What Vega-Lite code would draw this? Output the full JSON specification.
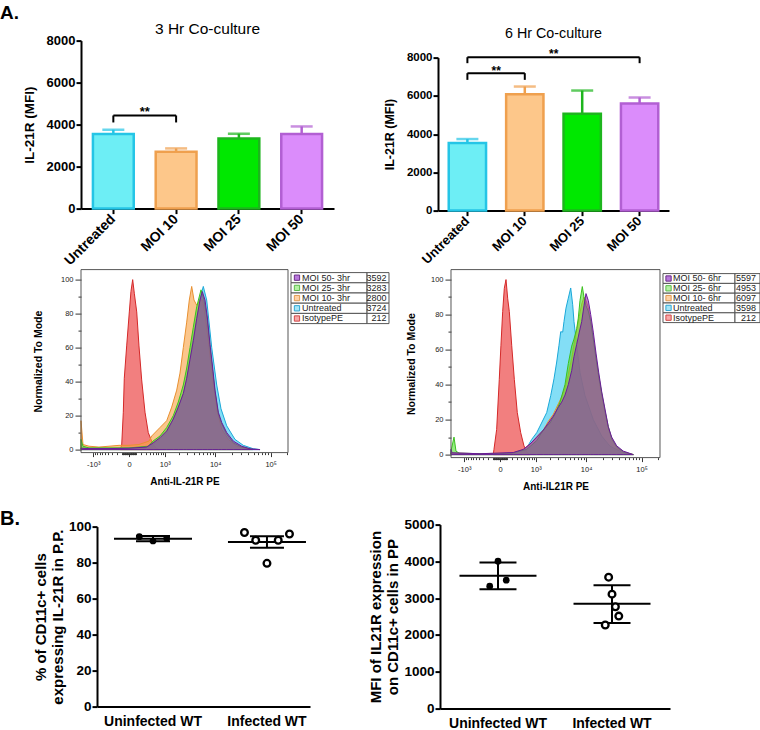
{
"$schema": "https://vega.github.io/schema/vega-lite/v6.json",
"padding": {"left": 0, "top": 3.6, "right": 0, "bottom": 0},
"background": "white",
"config": {
 "font": "Liberation Sans",
 "view": {"stroke": null},
 "axis": {"grid": false, "domainColor": "black", "domainWidth": 2, "tickColor": "black", "tickWidth": 2, "tickSize": 5, "labelColor": "black", "labelFontWeight": "bold", "titleColor": "black", "titleFontWeight": "bold", "labelFont": "Liberation Sans", "titleFont": "Liberation Sans", "labelOverlap": false},
 "title": {"color": "black", "font": "Liberation Sans"},
 "text": {"font": "Liberation Sans"}
},
"datasets": {
 "bar3": [{"group":"Untreated","mfi":3550,"hi":3755},{"group":"MOI 10","mfi":2710,"hi":2866},{"group":"MOI 25","mfi":3342,"hi":3565},{"group":"MOI 50","mfi":3550,"hi":3912}],
 "bar6": [{"group":"Untreated","mfi":3533,"hi":3741},{"group":"MOI 10","mfi":6090,"hi":6487},{"group":"MOI 25","mfi":5062,"hi":6278},{"group":"MOI 50","mfi":5600,"hi":5913}],
 "br3": [{"k":"a","from":"Untreated","to":"MOI 10","top":4435,"bottom":4102,"stars":"**"}],
 "br6": [{"k":"a","from":"Untreated","to":"MOI 10","top":7186,"bottom":6836,"stars":"**"},{"k":"b","from":"Untreated","to":"MOI 50","top":8021,"bottom":7708,"stars":"**"}],
 "leg3": [{"label":"MOI 50- 3hr","sample":"MOI 50","mfi":3592},{"label":"MOI 25- 3hr","sample":"MOI 25","mfi":3283},{"label":"MOI 10- 3hr","sample":"MOI 10","mfi":2800},{"label":"Untreated","sample":"Untreated","mfi":3724},{"label":"IsotypePE","sample":"IsotypePE","mfi":212}],
 "leg6": [{"label":"MOI 50- 6hr","sample":"MOI 50","mfi":5597},{"label":"MOI 25- 6hr","sample":"MOI 25","mfi":4953},{"label":"MOI 10- 6hr","sample":"MOI 10","mfi":6097},{"label":"Untreated","sample":"Untreated","mfi":3598},{"label":"IsotypePE","sample":"IsotypePE","mfi":212}],
 "d1": [{"group":"Uninfected WT","id":"U1","v":94.4},{"group":"Uninfected WT","id":"U2","v":92.0},{"group":"Uninfected WT","id":"U3","v":93.5},{"group":"Infected WT","id":"I1","v":96.7},{"group":"Infected WT","id":"I2","v":92.4},{"group":"Infected WT","id":"I5","v":79.6},{"group":"Infected WT","id":"I3","v":92.4},{"group":"Infected WT","id":"I4","v":95.9}],
 "s1": [{"group":"Uninfected WT","mean":93.3,"lo":91.9,"hi":94.8},{"group":"Infected WT","mean":91.5,"lo":88.3,"hi":94.7}],
 "d2": [{"group":"Uninfected WT","id":"U1","v":3327},{"group":"Uninfected WT","id":"U2","v":4006},{"group":"Uninfected WT","id":"U3","v":3490},{"group":"Infected WT","id":"I1","v":2270},{"group":"Infected WT","id":"I2","v":3571},{"group":"Infected WT","id":"I3","v":3110},{"group":"Infected WT","id":"I4","v":2767},{"group":"Infected WT","id":"I5","v":2514}],
 "s2": [{"group":"Uninfected WT","mean":3608,"lo":3246,"hi":3969},{"group":"Infected WT","mean":2846,"lo":2324,"hi":3354}],
 "h3": [
{"sample":"IsotypePE","fl":-134,"pct":0},{"sample":"IsotypePE","fl":-105,"pct":2.5},{"sample":"IsotypePE","fl":-79,"pct":22},{"sample":"IsotypePE","fl":-64,"pct":42},{"sample":"IsotypePE","fl":-30,"pct":61},{"sample":"IsotypePE","fl":4,"pct":81},{"sample":"IsotypePE","fl":25,"pct":93},{"sample":"IsotypePE","fl":49,"pct":100},{"sample":"IsotypePE","fl":73,"pct":92},{"sample":"IsotypePE","fl":112,"pct":81},{"sample":"IsotypePE","fl":152,"pct":61},{"sample":"IsotypePE","fl":205,"pct":41},{"sample":"IsotypePE","fl":279,"pct":22},{"sample":"IsotypePE","fl":362,"pct":10},{"sample":"IsotypePE","fl":503,"pct":3},{"sample":"IsotypePE","fl":647,"pct":0.5},{"sample":"IsotypePE","fl":771,"pct":0},
{"sample":"Untreated","fl":-1851,"pct":1},{"sample":"Untreated","fl":-1250,"pct":0.8},{"sample":"Untreated","fl":-382,"pct":0.8},{"sample":"Untreated","fl":0,"pct":1},{"sample":"Untreated","fl":279,"pct":1.2},{"sample":"Untreated","fl":503,"pct":3},{"sample":"Untreated","fl":771,"pct":6},{"sample":"Untreated","fl":1110,"pct":10},{"sample":"Untreated","fl":1432,"pct":16},{"sample":"Untreated","fl":1826,"pct":23},{"sample":"Untreated","fl":2487,"pct":33},{"sample":"Untreated","fl":2905,"pct":42},{"sample":"Untreated","fl":3267,"pct":52},{"sample":"Untreated","fl":3850,"pct":65},{"sample":"Untreated","fl":4530,"pct":78},{"sample":"Untreated","fl":5233,"pct":89},{"sample":"Untreated","fl":6036,"pct":96},{"sample":"Untreated","fl":6980,"pct":88},{"sample":"Untreated","fl":8650,"pct":60},{"sample":"Untreated","fl":10690,"pct":38},{"sample":"Untreated","fl":12800,"pct":24},{"sample":"Untreated","fl":16260,"pct":14},{"sample":"Untreated","fl":22980,"pct":6},{"sample":"Untreated","fl":32430,"pct":2.5},{"sample":"Untreated","fl":49050,"pct":0.5},{"sample":"Untreated","fl":64670,"pct":0},
{"sample":"MOI 10","fl":-1851,"pct":17},{"sample":"MOI 10","fl":-1682,"pct":3},{"sample":"MOI 10","fl":-1250,"pct":2},{"sample":"MOI 10","fl":-728,"pct":1.5},{"sample":"MOI 10","fl":-382,"pct":2},{"sample":"MOI 10","fl":-152,"pct":2.5},{"sample":"MOI 10","fl":0,"pct":2.5},{"sample":"MOI 10","fl":152,"pct":3},{"sample":"MOI 10","fl":382,"pct":5},{"sample":"MOI 10","fl":462,"pct":8},{"sample":"MOI 10","fl":771,"pct":13},{"sample":"MOI 10","fl":1110,"pct":17},{"sample":"MOI 10","fl":1432,"pct":25},{"sample":"MOI 10","fl":1826,"pct":35},{"sample":"MOI 10","fl":2134,"pct":45},{"sample":"MOI 10","fl":2487,"pct":60},{"sample":"MOI 10","fl":2905,"pct":75},{"sample":"MOI 10","fl":3267,"pct":88},{"sample":"MOI 10","fl":3634,"pct":96},{"sample":"MOI 10","fl":4024,"pct":88},{"sample":"MOI 10","fl":4530,"pct":85},{"sample":"MOI 10","fl":5233,"pct":88},{"sample":"MOI 10","fl":5883,"pct":88},{"sample":"MOI 10","fl":6777,"pct":75},{"sample":"MOI 10","fl":8040,"pct":55},{"sample":"MOI 10","fl":9252,"pct":38},{"sample":"MOI 10","fl":10958,"pct":22},{"sample":"MOI 10","fl":13182,"pct":12},{"sample":"MOI 10","fl":17381,"pct":6},{"sample":"MOI 10","fl":24657,"pct":2},{"sample":"MOI 10","fl":42790,"pct":0},
{"sample":"MOI 25","fl":-1851,"pct":6},{"sample":"MOI 25","fl":-1682,"pct":2},{"sample":"MOI 25","fl":-1250,"pct":1},{"sample":"MOI 25","fl":0,"pct":1},{"sample":"MOI 25","fl":362,"pct":2},{"sample":"MOI 25","fl":503,"pct":5},{"sample":"MOI 25","fl":771,"pct":8},{"sample":"MOI 25","fl":1110,"pct":13},{"sample":"MOI 25","fl":1549,"pct":20},{"sample":"MOI 25","fl":1970,"pct":28},{"sample":"MOI 25","fl":2487,"pct":38},{"sample":"MOI 25","fl":2905,"pct":48},{"sample":"MOI 25","fl":3370,"pct":60},{"sample":"MOI 25","fl":3903,"pct":72},{"sample":"MOI 25","fl":4530,"pct":84},{"sample":"MOI 25","fl":5466,"pct":94},{"sample":"MOI 25","fl":6220,"pct":88},{"sample":"MOI 25","fl":7165,"pct":76},{"sample":"MOI 25","fl":8040,"pct":60},{"sample":"MOI 25","fl":9018,"pct":46},{"sample":"MOI 25","fl":9940,"pct":34},{"sample":"MOI 25","fl":11430,"pct":21},{"sample":"MOI 25","fl":13182,"pct":15},{"sample":"MOI 25","fl":16260,"pct":9},{"sample":"MOI 25","fl":21410,"pct":4},{"sample":"MOI 25","fl":30340,"pct":1.5},{"sample":"MOI 25","fl":48420,"pct":0},
{"sample":"MOI 50","fl":-1851,"pct":0.8},{"sample":"MOI 50","fl":-1250,"pct":0.6},{"sample":"MOI 50","fl":-382,"pct":0.6},{"sample":"MOI 50","fl":0,"pct":0.8},{"sample":"MOI 50","fl":320,"pct":1.5},{"sample":"MOI 50","fl":510,"pct":4},{"sample":"MOI 50","fl":771,"pct":7},{"sample":"MOI 50","fl":1110,"pct":11},{"sample":"MOI 50","fl":1549,"pct":18},{"sample":"MOI 50","fl":1970,"pct":25},{"sample":"MOI 50","fl":2487,"pct":33},{"sample":"MOI 50","fl":2905,"pct":42},{"sample":"MOI 50","fl":3370,"pct":53},{"sample":"MOI 50","fl":3903,"pct":64},{"sample":"MOI 50","fl":4530,"pct":77},{"sample":"MOI 50","fl":5233,"pct":88},{"sample":"MOI 50","fl":5780,"pct":93},{"sample":"MOI 50","fl":6492,"pct":88},{"sample":"MOI 50","fl":7165,"pct":78},{"sample":"MOI 50","fl":8040,"pct":62},{"sample":"MOI 50","fl":9018,"pct":48},{"sample":"MOI 50","fl":9940,"pct":35},{"sample":"MOI 50","fl":11430,"pct":22},{"sample":"MOI 50","fl":13182,"pct":16},{"sample":"MOI 50","fl":16260,"pct":10},{"sample":"MOI 50","fl":21410,"pct":5},{"sample":"MOI 50","fl":30340,"pct":2},{"sample":"MOI 50","fl":42790,"pct":0.5},{"sample":"MOI 50","fl":64670,"pct":0}
 ],
 "h6": [
{"sample":"IsotypePE","fl":-95,"pct":0},{"sample":"IsotypePE","fl":-84,"pct":3},{"sample":"IsotypePE","fl":-44,"pct":14.4},{"sample":"IsotypePE","fl":-9,"pct":43},{"sample":"IsotypePE","fl":12,"pct":62.5},{"sample":"IsotypePE","fl":35,"pct":81.7},{"sample":"IsotypePE","fl":58,"pct":95},{"sample":"IsotypePE","fl":84,"pct":100},{"sample":"IsotypePE","fl":112,"pct":89},{"sample":"IsotypePE","fl":140,"pct":81.7},{"sample":"IsotypePE","fl":185,"pct":62.5},{"sample":"IsotypePE","fl":240,"pct":43},{"sample":"IsotypePE","fl":310,"pct":24},{"sample":"IsotypePE","fl":402,"pct":12.5},{"sample":"IsotypePE","fl":503,"pct":5},{"sample":"IsotypePE","fl":620,"pct":1},{"sample":"IsotypePE","fl":728,"pct":0},
{"sample":"Untreated","fl":-1942,"pct":1},{"sample":"Untreated","fl":-382,"pct":0.5},{"sample":"Untreated","fl":150,"pct":0.5},{"sample":"Untreated","fl":382,"pct":1},{"sample":"Untreated","fl":598,"pct":3.8},{"sample":"Untreated","fl":802,"pct":8.7},{"sample":"Untreated","fl":1053,"pct":12.5},{"sample":"Untreated","fl":1250,"pct":16.3},{"sample":"Untreated","fl":1741,"pct":24},{"sample":"Untreated","fl":2105,"pct":33.7},{"sample":"Untreated","fl":2453,"pct":43.3},{"sample":"Untreated","fl":2776,"pct":52.9},{"sample":"Untreated","fl":3080,"pct":62.5},{"sample":"Untreated","fl":3325,"pct":70.2},{"sample":"Untreated","fl":3634,"pct":70},{"sample":"Untreated","fl":3850,"pct":76},{"sample":"Untreated","fl":4206,"pct":83.7},{"sample":"Untreated","fl":4653,"pct":89.4},{"sample":"Untreated","fl":5166,"pct":95.2},{"sample":"Untreated","fl":5632,"pct":85.6},{"sample":"Untreated","fl":5958,"pct":76},{"sample":"Untreated","fl":6691,"pct":62.5},{"sample":"Untreated","fl":7704,"pct":47},{"sample":"Untreated","fl":9527,"pct":33.7},{"sample":"Untreated","fl":13518,"pct":20},{"sample":"Untreated","fl":19209,"pct":10.6},{"sample":"Untreated","fl":27130,"pct":4.8},{"sample":"Untreated","fl":47060,"pct":1},{"sample":"Untreated","fl":71080,"pct":0},
{"sample":"MOI 10","fl":-1942,"pct":1},{"sample":"MOI 10","fl":-382,"pct":0.5},{"sample":"MOI 10","fl":218,"pct":1},{"sample":"MOI 10","fl":481,"pct":3},{"sample":"MOI 10","fl":728,"pct":6},{"sample":"MOI 10","fl":1053,"pct":10},{"sample":"MOI 10","fl":1475,"pct":14},{"sample":"MOI 10","fl":1879,"pct":19},{"sample":"MOI 10","fl":2375,"pct":23},{"sample":"MOI 10","fl":2985,"pct":29},{"sample":"MOI 10","fl":3477,"pct":33},{"sample":"MOI 10","fl":4024,"pct":38},{"sample":"MOI 10","fl":4653,"pct":46},{"sample":"MOI 10","fl":5393,"pct":55},{"sample":"MOI 10","fl":5958,"pct":63},{"sample":"MOI 10","fl":6691,"pct":71},{"sample":"MOI 10","fl":7479,"pct":79},{"sample":"MOI 10","fl":8283,"pct":86},{"sample":"MOI 10","fl":9133,"pct":90},{"sample":"MOI 10","fl":9940,"pct":88},{"sample":"MOI 10","fl":10958,"pct":84},{"sample":"MOI 10","fl":12118,"pct":76},{"sample":"MOI 10","fl":13518,"pct":66},{"sample":"MOI 10","fl":15141,"pct":55},{"sample":"MOI 10","fl":16950,"pct":44},{"sample":"MOI 10","fl":19209,"pct":34},{"sample":"MOI 10","fl":22036,"pct":24},{"sample":"MOI 10","fl":25275,"pct":15},{"sample":"MOI 10","fl":29110,"pct":9},{"sample":"MOI 10","fl":35820,"pct":4},{"sample":"MOI 10","fl":47060,"pct":1.5},{"sample":"MOI 10","fl":71080,"pct":0},
{"sample":"MOI 25","fl":-1942,"pct":2},{"sample":"MOI 25","fl":-1682,"pct":10},{"sample":"MOI 25","fl":-1526,"pct":2},{"sample":"MOI 25","fl":-1250,"pct":0.5},{"sample":"MOI 25","fl":0,"pct":0.5},{"sample":"MOI 25","fl":218,"pct":1},{"sample":"MOI 25","fl":598,"pct":3},{"sample":"MOI 25","fl":1053,"pct":8},{"sample":"MOI 25","fl":1475,"pct":14},{"sample":"MOI 25","fl":2036,"pct":18},{"sample":"MOI 25","fl":2568,"pct":23},{"sample":"MOI 25","fl":3223,"pct":30},{"sample":"MOI 25","fl":4024,"pct":40},{"sample":"MOI 25","fl":4653,"pct":52},{"sample":"MOI 25","fl":5393,"pct":62},{"sample":"MOI 25","fl":5958,"pct":66},{"sample":"MOI 25","fl":6691,"pct":72},{"sample":"MOI 25","fl":7165,"pct":78},{"sample":"MOI 25","fl":7704,"pct":88},{"sample":"MOI 25","fl":8499,"pct":96},{"sample":"MOI 25","fl":9133,"pct":90},{"sample":"MOI 25","fl":9940,"pct":85},{"sample":"MOI 25","fl":10958,"pct":82},{"sample":"MOI 25","fl":12118,"pct":76},{"sample":"MOI 25","fl":13518,"pct":66},{"sample":"MOI 25","fl":15141,"pct":55},{"sample":"MOI 25","fl":16950,"pct":45},{"sample":"MOI 25","fl":19209,"pct":35},{"sample":"MOI 25","fl":22036,"pct":25},{"sample":"MOI 25","fl":25275,"pct":16},{"sample":"MOI 25","fl":29110,"pct":9},{"sample":"MOI 25","fl":35820,"pct":4.5},{"sample":"MOI 25","fl":47060,"pct":1.5},{"sample":"MOI 25","fl":71080,"pct":0},
{"sample":"MOI 50","fl":-1942,"pct":3},{"sample":"MOI 50","fl":-1850,"pct":1},{"sample":"MOI 50","fl":-382,"pct":0.5},{"sample":"MOI 50","fl":218,"pct":1.2},{"sample":"MOI 50","fl":481,"pct":3},{"sample":"MOI 50","fl":728,"pct":6},{"sample":"MOI 50","fl":1053,"pct":10},{"sample":"MOI 50","fl":1475,"pct":14},{"sample":"MOI 50","fl":1879,"pct":18},{"sample":"MOI 50","fl":2375,"pct":22},{"sample":"MOI 50","fl":2985,"pct":27},{"sample":"MOI 50","fl":3477,"pct":30},{"sample":"MOI 50","fl":4024,"pct":34},{"sample":"MOI 50","fl":4653,"pct":40},{"sample":"MOI 50","fl":5393,"pct":48},{"sample":"MOI 50","fl":5958,"pct":56},{"sample":"MOI 50","fl":6691,"pct":63},{"sample":"MOI 50","fl":7479,"pct":70},{"sample":"MOI 50","fl":8283,"pct":76},{"sample":"MOI 50","fl":9133,"pct":85},{"sample":"MOI 50","fl":9940,"pct":92},{"sample":"MOI 50","fl":10958,"pct":88},{"sample":"MOI 50","fl":12118,"pct":80},{"sample":"MOI 50","fl":13518,"pct":70},{"sample":"MOI 50","fl":15141,"pct":58},{"sample":"MOI 50","fl":16950,"pct":47},{"sample":"MOI 50","fl":19209,"pct":36},{"sample":"MOI 50","fl":22036,"pct":26},{"sample":"MOI 50","fl":25275,"pct":16},{"sample":"MOI 50","fl":29110,"pct":10},{"sample":"MOI 50","fl":35820,"pct":5},{"sample":"MOI 50","fl":47060,"pct":2},{"sample":"MOI 50","fl":71080,"pct":0}
 ]
},
"columns": 4,
"spacing": {"row": 59, "column": 0},
"bounds": "flush",
"align": "each",
"resolve": {"scale": {"fill": "independent", "stroke": "independent", "color": "independent"}},
"concat": [
 {"width": 81, "height": 1, "data": {"values": []}, "mark": "point",
  "title": {"text": "A.", "anchor": "start", "frame": "group", "fontSize": 19, "fontWeight": "bold", "offset": 18}},
 {"width": 253, "height": 168,
  "title": {"text": "3 Hr Co-culture", "fontSize": 15.5, "fontWeight": "normal", "frame": "group", "anchor": "middle", "offset": -3},
  "layer": [
   {"data": {"name": "bar3"}, "mark": {"type": "bar", "strokeWidth": 2.5},
    "encoding": {
     "x": {"field": "group", "type": "nominal", "sort": null, "scale": {"domain": ["Untreated","MOI 10","MOI 25","MOI 50"], "paddingInner": 0.35, "paddingOuter": 0.19},
           "axis": {"title": null, "labelAngle": -45, "labelAlign": "right", "labelBaseline": "middle", "labelFontSize": 14, "labelPadding": 3, "labelOverlap": false}},
     "y": {"field": "mfi", "type": "quantitative", "scale": {"domain": [0, 8000], "nice": false},
           "axis": {"title": "IL-21R (MFI)", "values": [0,2000,4000,6000,8000], "tickCount": 100, "format": "d", "labelOverlap": false, "labelFontSize": 13, "labelPadding": 1, "titleFontSize": 13.5, "titlePadding": 10}},
     "fill": {"field": "group", "type": "nominal", "scale": {"domain": ["Untreated","MOI 10","MOI 25","MOI 50"], "range": ["#6DEEF5","#FDC78A","#00E800","#DB8CFB"]}, "legend": null},
     "stroke": {"field": "group", "type": "nominal", "scale": {"domain": ["Untreated","MOI 10","MOI 25","MOI 50"], "range": ["#25C5E6","#EFA04E","#1DB51D","#B25FD3"]}, "legend": null}
    }},
   {"data": {"name": "bar3"}, "mark": {"type": "rule", "strokeWidth": 2.5},
    "encoding": {"x": {"field": "group", "type": "nominal"}, "y": {"field": "mfi", "type": "quantitative"}, "y2": {"field": "hi"}, "stroke": {"field": "group", "type": "nominal"}}},
   {"data": {"name": "bar3"}, "mark": {"type": "tick", "thickness": 2.5, "size": 22},
    "encoding": {"x": {"field": "group", "type": "nominal"}, "y": {"field": "hi", "type": "quantitative"}, "color": {"field": "group", "type": "nominal", "scale": {"domain": ["Untreated","MOI 10","MOI 25","MOI 50"], "range": ["#25C5E6","#EFA04E","#1DB51D","#B25FD3"]}, "legend": null}}},
   {"data": {"name": "br3"}, "mark": {"type": "rule", "strokeWidth": 2, "color": "black"},
    "encoding": {"x": {"field": "from", "type": "nominal"}, "x2": {"field": "to"}, "y": {"field": "top", "type": "quantitative"}}},
   {"data": {"name": "br3"}, "mark": {"type": "rule", "strokeWidth": 2, "color": "black"},
    "encoding": {"x": {"field": "from", "type": "nominal"}, "y": {"field": "top", "type": "quantitative"}, "y2": {"field": "bottom"}}},
   {"data": {"name": "br3"}, "mark": {"type": "rule", "strokeWidth": 2, "color": "black"},
    "encoding": {"x": {"field": "to", "type": "nominal"}, "y": {"field": "top", "type": "quantitative"}, "y2": {"field": "bottom"}}},
   {"data": {"name": "br3"}, "mark": {"type": "text", "fontSize": 13, "fontWeight": "bold", "color": "black", "dx": 31.5, "dy": 1, "baseline": "alphabetic"},
    "encoding": {"x": {"field": "from", "type": "nominal"}, "y": {"field": "top", "type": "quantitative"}, "text": {"field": "stars"}}}
  ]},
 {"width": 104, "height": 1, "data": {"values": []}, "mark": "point"},
 {"width": 231, "height": 170,
  "title": {"text": "6 Hr Co-culture", "fontSize": 14.3, "fontWeight": "normal", "frame": "group", "anchor": "middle", "offset": -1},
  "layer": [
   {"data": {"name": "bar6"}, "mark": {"type": "bar", "strokeWidth": 2.5},
    "encoding": {
     "x": {"field": "group", "type": "nominal", "sort": null, "scale": {"domain": ["Untreated","MOI 10","MOI 25","MOI 50"], "paddingInner": 0.35, "paddingOuter": 0.187},
           "axis": {"title": null, "labelAngle": -45, "labelAlign": "right", "labelBaseline": "middle", "labelFontSize": 13, "labelPadding": 3, "labelOverlap": false}},
     "y": {"field": "mfi", "type": "quantitative", "scale": {"domain": [0, 8000], "nice": false, "range": [170, 17]},
           "axis": {"title": "IL-21R (MFI)", "values": [0,2000,4000,6000,8000], "tickCount": 100, "format": "d", "labelOverlap": false, "labelFontSize": 11.5, "labelPadding": 1, "titleFontSize": 12.5, "titlePadding": 10}},
     "fill": {"field": "group", "type": "nominal", "scale": {"domain": ["Untreated","MOI 10","MOI 25","MOI 50"], "range": ["#6DEEF5","#FDC78A","#00E800","#DB8CFB"]}, "legend": null},
     "stroke": {"field": "group", "type": "nominal", "scale": {"domain": ["Untreated","MOI 10","MOI 25","MOI 50"], "range": ["#25C5E6","#EFA04E","#1DB51D","#B25FD3"]}, "legend": null}
    }},
   {"data": {"name": "bar6"}, "mark": {"type": "rule", "strokeWidth": 2.5},
    "encoding": {"x": {"field": "group", "type": "nominal"}, "y": {"field": "mfi", "type": "quantitative"}, "y2": {"field": "hi"}, "stroke": {"field": "group", "type": "nominal"}}},
   {"data": {"name": "bar6"}, "mark": {"type": "tick", "thickness": 2.5, "size": 22},
    "encoding": {"x": {"field": "group", "type": "nominal"}, "y": {"field": "hi", "type": "quantitative"}, "color": {"field": "group", "type": "nominal", "scale": {"domain": ["Untreated","MOI 10","MOI 25","MOI 50"], "range": ["#25C5E6","#EFA04E","#1DB51D","#B25FD3"]}, "legend": null}}},
   {"data": {"name": "br6"}, "mark": {"type": "rule", "strokeWidth": 2, "color": "black"},
    "encoding": {"x": {"field": "from", "type": "nominal"}, "x2": {"field": "to"}, "y": {"field": "top", "type": "quantitative"}}},
   {"data": {"name": "br6"}, "mark": {"type": "rule", "strokeWidth": 2, "color": "black"},
    "encoding": {"x": {"field": "from", "type": "nominal"}, "y": {"field": "top", "type": "quantitative"}, "y2": {"field": "bottom"}}},
   {"data": {"name": "br6"}, "mark": {"type": "rule", "strokeWidth": 2, "color": "black"},
    "encoding": {"x": {"field": "to", "type": "nominal"}, "y": {"field": "top", "type": "quantitative"}, "y2": {"field": "bottom"}}},
   {"data": {"name": "br6"}, "transform": [{"filter": "datum.k === 'a'"}], "mark": {"type": "text", "fontSize": 12, "fontWeight": "bold", "color": "black", "dx": 28.75, "dy": 1.7, "baseline": "alphabetic"},
    "encoding": {"x": {"field": "from", "type": "nominal"}, "y": {"field": "top", "type": "quantitative"}, "text": {"field": "stars"}}},
   {"data": {"name": "br6"}, "transform": [{"filter": "datum.k === 'b'"}], "mark": {"type": "text", "fontSize": 12, "fontWeight": "bold", "color": "black", "dx": 86.25, "dy": 1.2, "baseline": "alphabetic"},
    "encoding": {"x": {"field": "from", "type": "nominal"}, "y": {"field": "top", "type": "quantitative"}, "text": {"field": "stars"}}}
  ]},

 {"width": 81, "height": 196, "data": {"values": []}, "mark": "point"},
 {"width": 207, "height": 183,
  "layer": [
   {"layer": [
     {"data": {"name": "h3"},
      "mark": {"type": "area", "fillOpacity": 0.6, "strokeWidth": 1},
      "encoding": {
       "x": {"field": "fl", "type": "quantitative", "scale": {"type": "symlog", "constant": 300, "domain": [-1851, 204600], "nice": false, "zero": false},
             "axis": {"title": "Anti-IL-21R PE", "values": [-1000,-900,-800,-700,-600,-500,-400,-300,-200,-100,-90,-80,-70,-60,-50,-40,-30,-20,-10,0,10,20,30,40,50,60,70,80,90,100,200,300,400,500,600,700,800,900,1000,2000,3000,4000,5000,6000,7000,8000,9000,10000,20000,30000,40000,50000,60000,70000,80000,90000,100000,200000],
                      "tickCount": 1000,
                      "labelExpr": "datum.value == -1000 ? '-10³' : datum.value == 0 ? '0' : datum.value == 1000 ? '10³' : datum.value == 10000 ? '10⁴' : datum.value == 100000 ? '10⁵' : ''",
                      "labelOverlap": false, "domain": false, "tickColor": "#333", "tickWidth": 1, "tickSize": {"condition": {"test": "indexof([-1000,0,1000,10000,100000], datum.value) >= 0", "value": 4}, "value": 2},
                      "labelFontSize": 7.5, "labelFontWeight": "normal", "labelColor": "#222", "labelPadding": 4, "labelFlush": false, "titleFontSize": 10, "titlePadding": 8}},
       "y": {"field": "pct", "type": "quantitative", "stack": null, "scale": {"domain": [-1.76, 105.9], "nice": false, "zero": false},
             "axis": {"title": "Normalized To Mode", "values": [0,10,20,30,40,50,60,70,80,90,100], "tickCount": 1000, "format": "d", "labelExpr": "datum.value % 20 === 0 ? datum.label : ''",
                      "labelOverlap": false, "domain": false, "tickColor": "#333", "tickWidth": 1, "tickSize": {"condition": {"test": "datum.value % 20 === 0", "value": 6}, "value": 3},
                      "labelFontSize": 7.5, "labelFontWeight": "normal", "labelColor": "#222", "labelPadding": 2, "titleFontSize": 10.5, "titlePadding": 17}},
       "fill": {"field": "sample", "type": "nominal", "scale": {"domain": ["IsotypePE","Untreated","MOI 10","MOI 25","MOI 50"], "range": ["#EA2A2A","#30C8F0","#F8A040","#50E030","#912DB6"]}, "legend": null},
       "stroke": {"field": "sample", "type": "nominal", "scale": {"domain": ["IsotypePE","Untreated","MOI 10","MOI 25","MOI 50"], "range": ["#D42828","#1AA8D8","#E89030","#3CC020","#6A1B9A"]}, "legend": null}
      }},
     {"data": {"values": [{}]}, "mark": {"type": "rect", "fill": "transparent", "stroke": "#555", "strokeWidth": 1},
      "encoding": {"x": {"datum": -1851, "type": "quantitative"}, "x2": {"datum": 204600}, "y": {"datum": -1.76, "type": "quantitative"}, "y2": {"datum": 105.9}}}
   ]},
   {"data": {"name": "leg3"},
    "encoding": {"y": {"field": "label", "type": "nominal", "sort": null, "scale": {"range": [3, 54], "paddingInner": 0, "paddingOuter": 0}, "axis": null}},
    "layer": [
     {"mark": {"type": "rect", "fill": "white", "stroke": "#555", "strokeWidth": 1},
      "encoding": {"x": {"datum": 0, "type": "quantitative", "scale": {"domain": [0, 1], "range": [210, 308], "nice": false, "zero": false}, "axis": null}, "x2": {"datum": 0.776}}},
     {"mark": {"type": "rect", "fill": "white", "stroke": "#555", "strokeWidth": 1},
      "encoding": {"x": {"datum": 0.776, "type": "quantitative"}, "x2": {"datum": 1}}},
     {"mark": {"type": "point", "shape": "square", "filled": true, "size": 28, "strokeWidth": 1, "opacity": 1},
      "encoding": {"x": {"datum": 0.061, "type": "quantitative"},
       "fill": {"field": "sample", "type": "nominal", "scale": {"domain": ["IsotypePE","Untreated","MOI 10","MOI 25","MOI 50"], "range": ["#F8A8A8","#A6E6F8","#FFD2A6","#B4F2A4","#B878DC"]}, "legend": null},
       "stroke": {"field": "sample", "type": "nominal", "scale": {"domain": ["IsotypePE","Untreated","MOI 10","MOI 25","MOI 50"], "range": ["#D04848","#2EA6D2","#E09A50","#5AB84A","#6A2A8A"]}, "legend": null}}},
     {"mark": {"type": "text", "align": "left", "baseline": "middle", "fontSize": 9, "color": "#222"},
      "encoding": {"x": {"datum": 0.112, "type": "quantitative"}, "text": {"field": "label"}}},
     {"mark": {"type": "text", "align": "right", "baseline": "middle", "fontSize": 9, "color": "#222"},
      "encoding": {"x": {"datum": 0.975, "type": "quantitative"}, "text": {"field": "mfi", "type": "quantitative", "format": "d"}}}
    ]}
  ],
  "resolve": {"scale": {"x": "independent", "y": "independent", "fill": "independent", "stroke": "independent"}}},
 {"width": 104, "height": 1, "data": {"values": []}, "mark": "point"},
 {"width": 222, "height": 188,
  "layer": [
   {"layer": [
     {"data": {"name": "h6"},
      "mark": {"type": "area", "fillOpacity": 0.6, "strokeWidth": 1},
      "encoding": {
       "x": {"field": "fl", "type": "quantitative", "scale": {"type": "symlog", "constant": 300, "domain": [-1942, 213300], "range": [13, 222], "nice": false, "zero": false},
             "axis": {"title": "Anti-IL21R PE", "values": [-1000,-900,-800,-700,-600,-500,-400,-300,-200,-100,-90,-80,-70,-60,-50,-40,-30,-20,-10,0,10,20,30,40,50,60,70,80,90,100,200,300,400,500,600,700,800,900,1000,2000,3000,4000,5000,6000,7000,8000,9000,10000,20000,30000,40000,50000,60000,70000,80000,90000,100000,200000],
                      "tickCount": 1000,
                      "labelExpr": "datum.value == -1000 ? '-10³' : datum.value == 0 ? '0' : datum.value == 1000 ? '10³' : datum.value == 10000 ? '10⁴' : datum.value == 100000 ? '10⁵' : ''",
                      "labelOverlap": false, "domain": false, "tickColor": "#333", "tickWidth": 1, "tickSize": {"condition": {"test": "indexof([-1000,0,1000,10000,100000], datum.value) >= 0", "value": 4}, "value": 2},
                      "labelFontSize": 7.5, "labelFontWeight": "normal", "labelColor": "#222", "labelPadding": 4, "labelFlush": false, "titleFontSize": 10, "titlePadding": 8}},
       "y": {"field": "pct", "type": "quantitative", "stack": null, "scale": {"domain": [-1.71, 105.7], "nice": false, "zero": false},
             "axis": {"title": "Normalized To Mode", "offset": -13, "values": [0,10,20,30,40,50,60,70,80,90,100], "tickCount": 1000, "format": "d", "labelExpr": "datum.value % 20 === 0 ? datum.label : ''",
                      "labelOverlap": false, "domain": false, "tickColor": "#333", "tickWidth": 1, "tickSize": {"condition": {"test": "datum.value % 20 === 0", "value": 6}, "value": 3},
                      "labelFontSize": 7.5, "labelFontWeight": "normal", "labelColor": "#222", "labelPadding": 2, "titleFontSize": 10.5, "titlePadding": 14}},
       "fill": {"field": "sample", "type": "nominal", "scale": {"domain": ["IsotypePE","Untreated","MOI 10","MOI 25","MOI 50"], "range": ["#EA2A2A","#30C8F0","#F8A040","#50E030","#912DB6"]}, "legend": null},
       "stroke": {"field": "sample", "type": "nominal", "scale": {"domain": ["IsotypePE","Untreated","MOI 10","MOI 25","MOI 50"], "range": ["#D42828","#1AA8D8","#E89030","#3CC020","#6A1B9A"]}, "legend": null}
      }},
     {"data": {"values": [{}]}, "mark": {"type": "rect", "fill": "transparent", "stroke": "#555", "strokeWidth": 1},
      "encoding": {"x": {"datum": -1942, "type": "quantitative"}, "x2": {"datum": 213300}, "y": {"datum": -1.71, "type": "quantitative"}, "y2": {"datum": 105.7}}}
   ]},
   {"data": {"name": "leg6"},
    "encoding": {"y": {"field": "label", "type": "nominal", "sort": null, "scale": {"range": [4, 53], "paddingInner": 0, "paddingOuter": 0}, "axis": null}},
    "layer": [
     {"mark": {"type": "rect", "fill": "white", "stroke": "#555", "strokeWidth": 1},
      "encoding": {"x": {"datum": 0, "type": "quantitative", "scale": {"domain": [0, 1], "range": [225, 322], "nice": false, "zero": false}, "axis": null}, "x2": {"datum": 0.742}}},
     {"mark": {"type": "rect", "fill": "white", "stroke": "#555", "strokeWidth": 1},
      "encoding": {"x": {"datum": 0.742, "type": "quantitative"}, "x2": {"datum": 1}}},
     {"mark": {"type": "point", "shape": "square", "filled": true, "size": 28, "strokeWidth": 1, "opacity": 1},
      "encoding": {"x": {"datum": 0.057, "type": "quantitative"},
       "fill": {"field": "sample", "type": "nominal", "scale": {"domain": ["IsotypePE","Untreated","MOI 10","MOI 25","MOI 50"], "range": ["#F8A8A8","#A6E6F8","#FFD2A6","#B4F2A4","#B878DC"]}, "legend": null},
       "stroke": {"field": "sample", "type": "nominal", "scale": {"domain": ["IsotypePE","Untreated","MOI 10","MOI 25","MOI 50"], "range": ["#D04848","#2EA6D2","#E09A50","#5AB84A","#6A2A8A"]}, "legend": null}}},
     {"mark": {"type": "text", "align": "left", "baseline": "middle", "fontSize": 9, "color": "#222"},
      "encoding": {"x": {"datum": 0.103, "type": "quantitative"}, "text": {"field": "label"}}},
     {"mark": {"type": "text", "align": "right", "baseline": "middle", "fontSize": 9, "color": "#222"},
      "encoding": {"x": {"datum": 0.96, "type": "quantitative"}, "text": {"field": "mfi", "type": "quantitative", "format": "d"}}}
    ]}
  ],
  "resolve": {"scale": {"x": "independent", "y": "independent", "fill": "independent", "stroke": "independent"}}},

 {"width": 81, "height": 1, "data": {"values": []}, "mark": "point",
  "title": {"text": "B.", "anchor": "start", "frame": "group", "fontSize": 20, "fontWeight": "bold", "offset": -4}},
 {"width": 229, "height": 182,
  "layer": [
   {"data": {"name": "s1"}, "mark": {"type": "rule", "color": "black", "strokeWidth": 2},
    "encoding": {
     "x": {"field": "group", "type": "nominal", "scale": {"domain": ["Uninfected WT","Infected WT"], "range": [16, 229], "paddingInner": 0.605, "paddingOuter": 0.237, "align": 0.62},
           "axis": {"title": null, "labelAngle": 0, "ticks": false, "labelOverlap": false, "labelFontSize": 14, "labelPadding": 8}},
     "y": {"field": "lo", "type": "quantitative", "scale": {"domain": [0, 100], "range": [182, 2], "nice": false},
           "axis": {"title": ["% of CD11c+ cells", "expressing IL-21R in P.P."], "offset": -16, "values": [0,20,40,60,80,100], "tickCount": 100, "format": "d", "labelOverlap": false, "labelFontSize": 13.5, "labelPadding": 1, "titleFontSize": 15, "titleLineHeight": 17, "titlePadding": 3}},
     "y2": {"field": "hi"}}},
   {"data": {"name": "s1"}, "mark": {"type": "tick", "color": "black", "thickness": 2, "size": 34, "opacity": 1},
    "encoding": {"x": {"field": "group", "type": "nominal"}, "y": {"field": "lo", "type": "quantitative"}}},
   {"data": {"name": "s1"}, "mark": {"type": "tick", "color": "black", "thickness": 2, "size": 34, "opacity": 1},
    "encoding": {"x": {"field": "group", "type": "nominal"}, "y": {"field": "hi", "type": "quantitative"}}},
   {"data": {"name": "s1"}, "mark": {"type": "tick", "color": "black", "thickness": 2, "size": 78, "opacity": 1},
    "encoding": {"x": {"field": "group", "type": "nominal"}, "y": {"field": "mean", "type": "quantitative"}}},
   {"data": {"name": "d1"}, "transform": [{"filter": "datum.group === 'Uninfected WT'"}],
    "mark": {"type": "point", "filled": true, "color": "black", "size": 45, "opacity": 1},
    "encoding": {"x": {"field": "group", "type": "nominal"}, "xOffset": {"field": "id", "type": "nominal", "sort": null, "scale": {"paddingInner": 0, "paddingOuter": 0.643}}, "y": {"field": "v", "type": "quantitative"}}},
   {"data": {"name": "d1"}, "transform": [{"filter": "datum.group === 'Infected WT'"}],
    "mark": {"type": "point", "filled": false, "color": "black", "fill": "white", "fillOpacity": 1, "strokeWidth": 2.3, "size": 45, "opacity": 1},
    "encoding": {"x": {"field": "group", "type": "nominal"}, "xOffset": {"field": "id", "type": "nominal", "sort": null, "scale": {"paddingInner": 0, "paddingOuter": 0}}, "y": {"field": "v", "type": "quantitative"}}}
  ],
  "resolve": {"scale": {"xOffset": "independent"}}},
 {"width": 104, "height": 1, "data": {"values": []}, "mark": "point"},
 {"width": 232, "height": 184,
  "layer": [
   {"data": {"name": "s2"}, "mark": {"type": "rule", "color": "black", "strokeWidth": 2},
    "encoding": {
     "x": {"field": "group", "type": "nominal", "scale": {"domain": ["Uninfected WT","Infected WT"], "range": [2, 232], "paddingInner": 0.855, "paddingOuter": 0.436, "align": 0.5},
           "axis": {"title": null, "labelAngle": 0, "ticks": false, "labelOverlap": false, "labelFontSize": 14, "labelPadding": 8}},
     "y": {"field": "lo", "type": "quantitative", "scale": {"domain": [0, 5000], "nice": false},
           "axis": {"title": ["MFI of IL21R expression", "on CD11c+ cells in PP"], "offset": -2, "values": [0,1000,2000,3000,4000,5000], "tickCount": 100, "format": "d", "labelOverlap": false, "labelFontSize": 13.5, "labelPadding": 1, "titleFontSize": 15, "titleLineHeight": 17, "titlePadding": 3}},
     "y2": {"field": "hi"}}},
   {"data": {"name": "s2"}, "mark": {"type": "tick", "color": "black", "thickness": 2, "size": 37, "opacity": 1},
    "encoding": {"x": {"field": "group", "type": "nominal"}, "y": {"field": "lo", "type": "quantitative"}}},
   {"data": {"name": "s2"}, "mark": {"type": "tick", "color": "black", "thickness": 2, "size": 37, "opacity": 1},
    "encoding": {"x": {"field": "group", "type": "nominal"}, "y": {"field": "hi", "type": "quantitative"}}},
   {"data": {"name": "s2"}, "mark": {"type": "tick", "color": "black", "thickness": 2, "size": 77, "opacity": 1},
    "encoding": {"x": {"field": "group", "type": "nominal"}, "y": {"field": "mean", "type": "quantitative"}}},
   {"data": {"name": "d2"}, "transform": [{"filter": "datum.group === 'Uninfected WT'"}],
    "mark": {"type": "point", "filled": true, "color": "black", "size": 45, "opacity": 1},
    "encoding": {"x": {"field": "group", "type": "nominal"}, "xOffset": {"field": "id", "type": "nominal", "sort": null, "scale": {"paddingInner": 0, "paddingOuter": 0}}, "y": {"field": "v", "type": "quantitative"}}},
   {"data": {"name": "d2"}, "transform": [{"filter": "datum.group === 'Infected WT'"}],
    "mark": {"type": "point", "filled": false, "color": "black", "fill": "white", "fillOpacity": 1, "strokeWidth": 2.3, "size": 45, "opacity": 1},
    "encoding": {"x": {"field": "group", "type": "nominal"}, "xOffset": {"field": "id", "type": "nominal", "sort": null, "scale": {"paddingInner": 0, "paddingOuter": 0.446}}, "y": {"field": "v", "type": "quantitative"}}}
  ],
  "resolve": {"scale": {"xOffset": "independent"}}}
]
}
